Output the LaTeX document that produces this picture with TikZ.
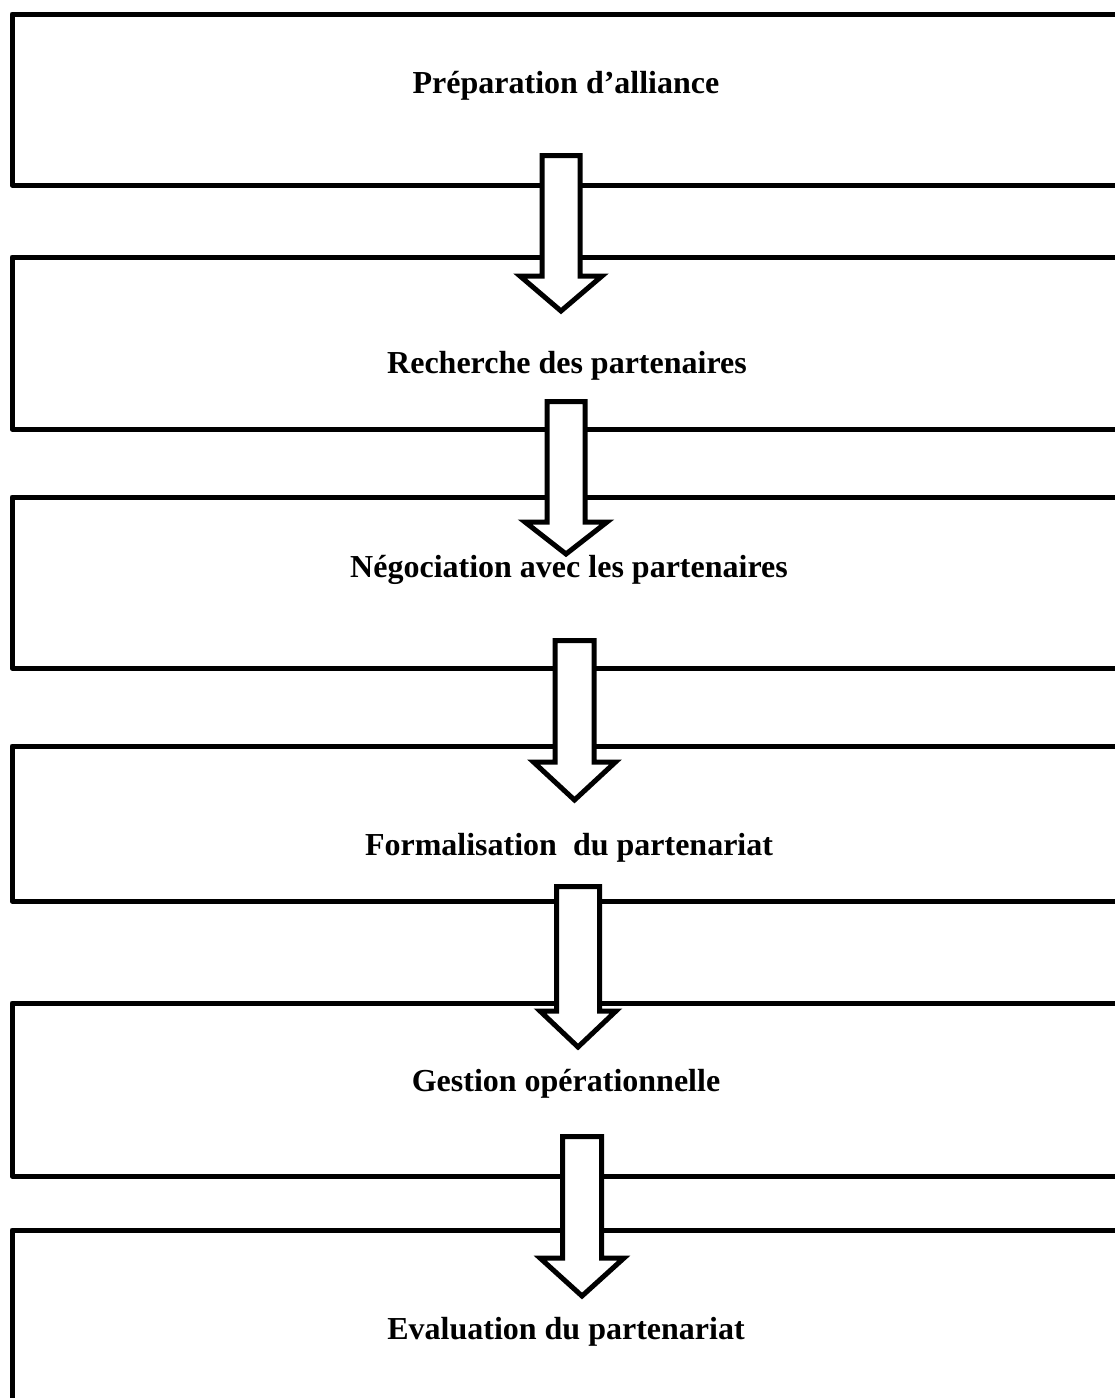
\documentclass[tikz,border=0pt]{standalone}
\usepackage{fontspec}
\setmainfont{Liberation Serif}
\newcommand\flowarrow[6]{% cx, top, wing y, tip, shaft half, wing half
  \draw[blockarrow] (#1-#5,#2) -- (#1+#5,#2) -- (#1+#5,#3) -- (#1+#6,#3) -- (#1,#4)
    -- (#1-#6,#3) -- (#1-#5,#3) -- cycle;}
\begin{document}
\begin{tikzpicture}[x=1pt,y=-1pt,
  box/.style={draw=black,line width=5pt,line join=round,fill=white,rectangle,
    inner sep=0pt,outer sep=0pt,anchor=north west,minimum width=1140pt},
  lbl/.style={font=\bfseries\fontsize{32}{38}\selectfont,anchor=base,inner sep=0pt},
  blockarrow/.style={draw=black,line width=5pt,fill=white,line join=miter}]
\useasboundingbox (0,0) rectangle (1115,1398);
\clip (0,0) rectangle (1115,1398);
\fill[white] (0,0) rectangle (1115,1398);
% boxes
\node[box,minimum height=171pt] (b1) at (12,14) {};
\node[box,minimum height=172pt] (b2) at (12,257) {};
\node[box,minimum height=171pt] (b3) at (12,497) {};
\node[box,minimum height=155pt] (b4) at (12,746) {};
\node[box,minimum height=173pt] (b5) at (12,1003) {};
\node[box,minimum height=220pt] (b6) at (12,1230) {};
% arrows
\flowarrow{561}{155.5}{276}{311}{19}{41}
\flowarrow{566}{401.5}{522}{554}{19}{41}
\flowarrow{574.5}{640.5}{762}{800}{19.5}{41}
\flowarrow{578}{886.5}{1011}{1047}{21.5}{38}
\flowarrow{582}{1136.5}{1258}{1296}{19.5}{42}
% labels
\node[lbl] (t1) at (566,93) {Préparation d’alliance};
\node[lbl] (t2) at (567,373) {Recherche des partenaires};
\node[lbl] (t3) at (569,577) {Négociation avec les partenaires};
\node[lbl] (t4) at (569,855) {Formalisation\ \ du partenariat};
\node[lbl] (t5) at (566,1091) {Gestion opérationnelle};
\node[lbl] (t6) at (566,1339) {Evaluation du partenariat};
\end{tikzpicture}
\end{document}
